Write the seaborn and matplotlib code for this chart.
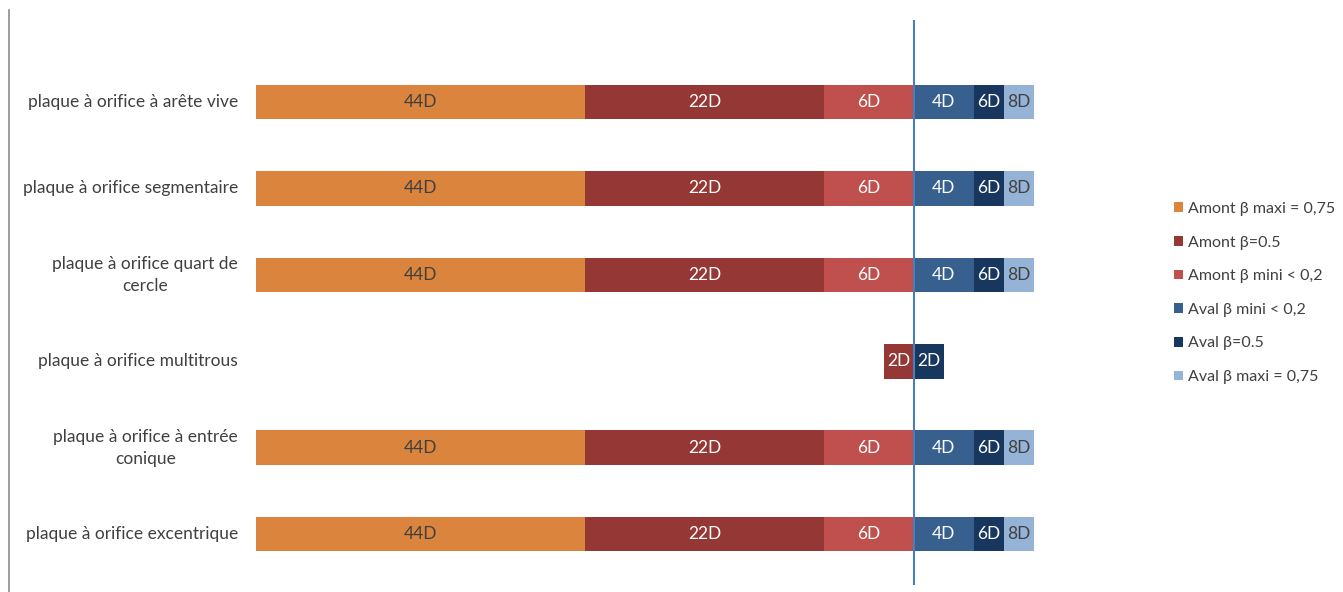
import numpy as np
import pandas as pd
import seaborn as sns
import matplotlib.pyplot as plt
from matplotlib.patches import Patch
from matplotlib.lines import Line2D

# Données
categories = ['plaque à orifice à arête vive',
              'plaque à orifice segmentaire',
              'plaque à orifice quart de\ncercle',
              'plaque à orifice multitrous',
              'plaque à orifice à entrée\nconique',
              'plaque à orifice excentrique']

amont_maxi = [44, 44, 44, np.nan, 44, 44]
amont_05 = [22, 22, 22, 2, 22, 22]
amont_mini = [6, 6, 6, np.nan, 6, 6]
aval_mini = [4, 4, 4, np.nan, 4, 4]
aval_05 = [6, 6, 6, 2, 6, 6]
aval_maxi = [8, 8, 8, np.nan, 8, 8]

series_names = ['Amont β maxi = 0,75', 'Amont β=0.5', 'Amont β mini < 0,2',
                'Aval β mini < 0,2', 'Aval β=0.5', 'Aval β maxi = 0,75']
colors = ['#DB843D', '#953735', '#C0504D', '#37608F', '#17375E', '#95B3D7']
text_colors = ['#404040', 'white', 'white', 'white', 'white', '#404040']

# amont négatif (à gauche), aval positif (à droite)
series = {
    series_names[0]: -np.array(amont_maxi),
    series_names[1]: -np.array(amont_05),
    series_names[2]: -np.array(amont_mini),
    series_names[3]: np.array(aval_mini),
    series_names[4]: np.array(aval_05),
    series_names[5]: np.array(aval_maxi),
}
df = pd.DataFrame(series)
df['cat'] = categories

plt.rcParams['font.family'] = ['Lato', 'DejaVu Sans']
fs = 12.5
fig = plt.figure(figsize=(13.43, 5.92), dpi=100)
W, H = 1343, 592
ax = fig.add_axes([8 / W, (H - 585) / H, (1142 - 8) / W, (585 - 20) / H])

# barres superposées : les plus longues d'abord
draw_order = [0, 1, 2, 5, 4, 3]
for i in draw_order:
    name = series_names[i]
    sns.barplot(data=df, x=name, y='cat', order=categories, orient='h',
                color=colors[i], width=0.4, saturation=1, ax=ax, linewidth=0)

# étiquettes au milieu de la partie visible de chaque barre
for r in range(len(categories)):
    for side in (series_names[:3], series_names[3:]):
        vals = [(abs(df.loc[r, n]), n) for n in side if not np.isnan(df.loc[r, n])]
        vals.sort()
        prev = 0
        for v, n in vals:
            sign = -1 if n.startswith('Amont') else 1
            mid = sign * (prev + v) / 2
            k = series_names.index(n)
            ax.text(mid, r, f'{int(v)}D', ha='center', va='center',
                    color=text_colors[k], fontsize=fs)
            prev = v

# libellés des catégories
for r, c in enumerate(categories):
    ax.text(-45.2, r, c, ha='right', va='center', multialignment='center',
            fontsize=fs, color='#404040', linespacing=1.45)

ax.axvline(0, color='#4A7EBB', linewidth=1.5)
ax.set_xlim(-60.6, 15.25)
ax.set_ylim(5.59, -0.95)
ax.set_xlabel('')
ax.set_ylabel('')
ax.set_xticks([])
ax.set_yticks([])
for s in ax.spines.values():
    s.set_visible(False)

fig.add_artist(Line2D([8.5 / W, 8.5 / W], [0, (H - 10) / H],
                      color='#8C8C8C', linewidth=1.2))

handles = [Patch(facecolor=c, edgecolor='none') for c in colors]
fig.legend(handles, series_names, loc='center left',
           bbox_to_anchor=(1160 / W, (H - 293) / H), frameon=False,
           fontsize=11.5, handlelength=0.55, handleheight=0.55, handletextpad=0.3,
           labelspacing=1.23, labelcolor='#404040')

fig.savefig('out.png', dpi=100)
